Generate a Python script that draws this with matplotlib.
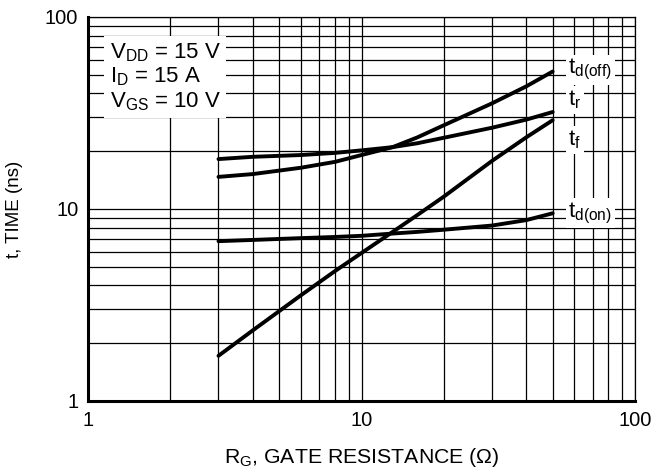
import numpy as np
import matplotlib
matplotlib.use('Agg')
import matplotlib.pyplot as plt

plt.rcParams['font.family'] = ['Liberation Sans', 'DejaVu Sans']
plt.rcParams['mathtext.fontset'] = 'custom'
plt.rcParams['mathtext.rm'] = 'Liberation Sans'
plt.rcParams['mathtext.it'] = 'Liberation Sans'

# gate resistance (ohm)
rg = [3, 4, 6, 8, 10, 13, 16, 20, 30, 40, 50]
# switching times (ns)
td_off = [14.7, 15.2, 16.4, 17.6, 19.1, 21.0, 23.6, 27.3, 35.5, 43.5, 52.0]
t_r = [18.2, 18.7, 19.1, 19.6, 20.2, 21.0, 22.0, 23.5, 26.5, 29.2, 32.0]
t_f = [1.72, 2.33, 3.55, 4.75, 5.9, 7.6, 9.3, 11.6, 17.8, 23.6, 29.0]
td_on = [6.8, 6.9, 7.05, 7.15, 7.25, 7.45, 7.6, 7.8, 8.2, 8.75, 9.5]

curve_labels = [r'$\mathrm{t_{d(off)}}$', r'$\mathrm{t_r}$', r'$\mathrm{t_f}$', r'$\mathrm{t_{d(on)}}$']
label_y = [53, 37, 23, 9.5]

fig = plt.figure(figsize=(6.55, 4.74), dpi=100)
ax = fig.add_axes([88/655, 73/474, 547/655, 384/474])

for y in [td_off, t_r, t_f, td_on]:
    ax.plot(rg, y, color='black', lw=2.8, solid_capstyle='round', zorder=3)

ax.set_xscale('log')
ax.set_yscale('log')
ax.set_xlim(1, 100)
ax.set_ylim(1, 100)
ax.grid(which='both', color='black', lw=0.9)
ax.tick_params(which='both', length=0, labelsize=14.5, pad=7)
ax.set_xticks([1, 10, 100])
ax.set_xticklabels(['1', '10', '100'])
ax.set_yticks([1, 10, 100])
ax.set_yticklabels(['1', '10', '100'])
ax.xaxis.set_minor_formatter(plt.NullFormatter())
ax.yaxis.set_minor_formatter(plt.NullFormatter())
for s in ['left', 'bottom']:
    ax.spines[s].set_linewidth(2.2)
for s in ['top', 'right']:
    ax.spines[s].set_linewidth(0.9)

ax.set_xlabel(r'$\mathrm{R_G}$, GATE RESISTANCE (Ω)', fontsize=15.3, labelpad=12)
ax.set_ylabel('t, TIME (ns)', fontsize=13.5, labelpad=16)

ax.text(1.2, 48.7, '$\\mathrm{V_{DD}}$ = 15 V\n$\\mathrm{I_D}$ = 15 A\n$\\mathrm{V_{GS}}$ = 10 V',
        fontsize=16, va='center', ha='left', linespacing=1.1,
        bbox=dict(facecolor='white', edgecolor='none', pad=4), zorder=4)

for lab, y in zip(curve_labels, label_y):
    ax.text(57, y, lab, fontsize=16, va='center', ha='left',
            bbox=dict(facecolor='white', edgecolor='none', pad=2), zorder=4)

fig.savefig('out.png', dpi=100)
